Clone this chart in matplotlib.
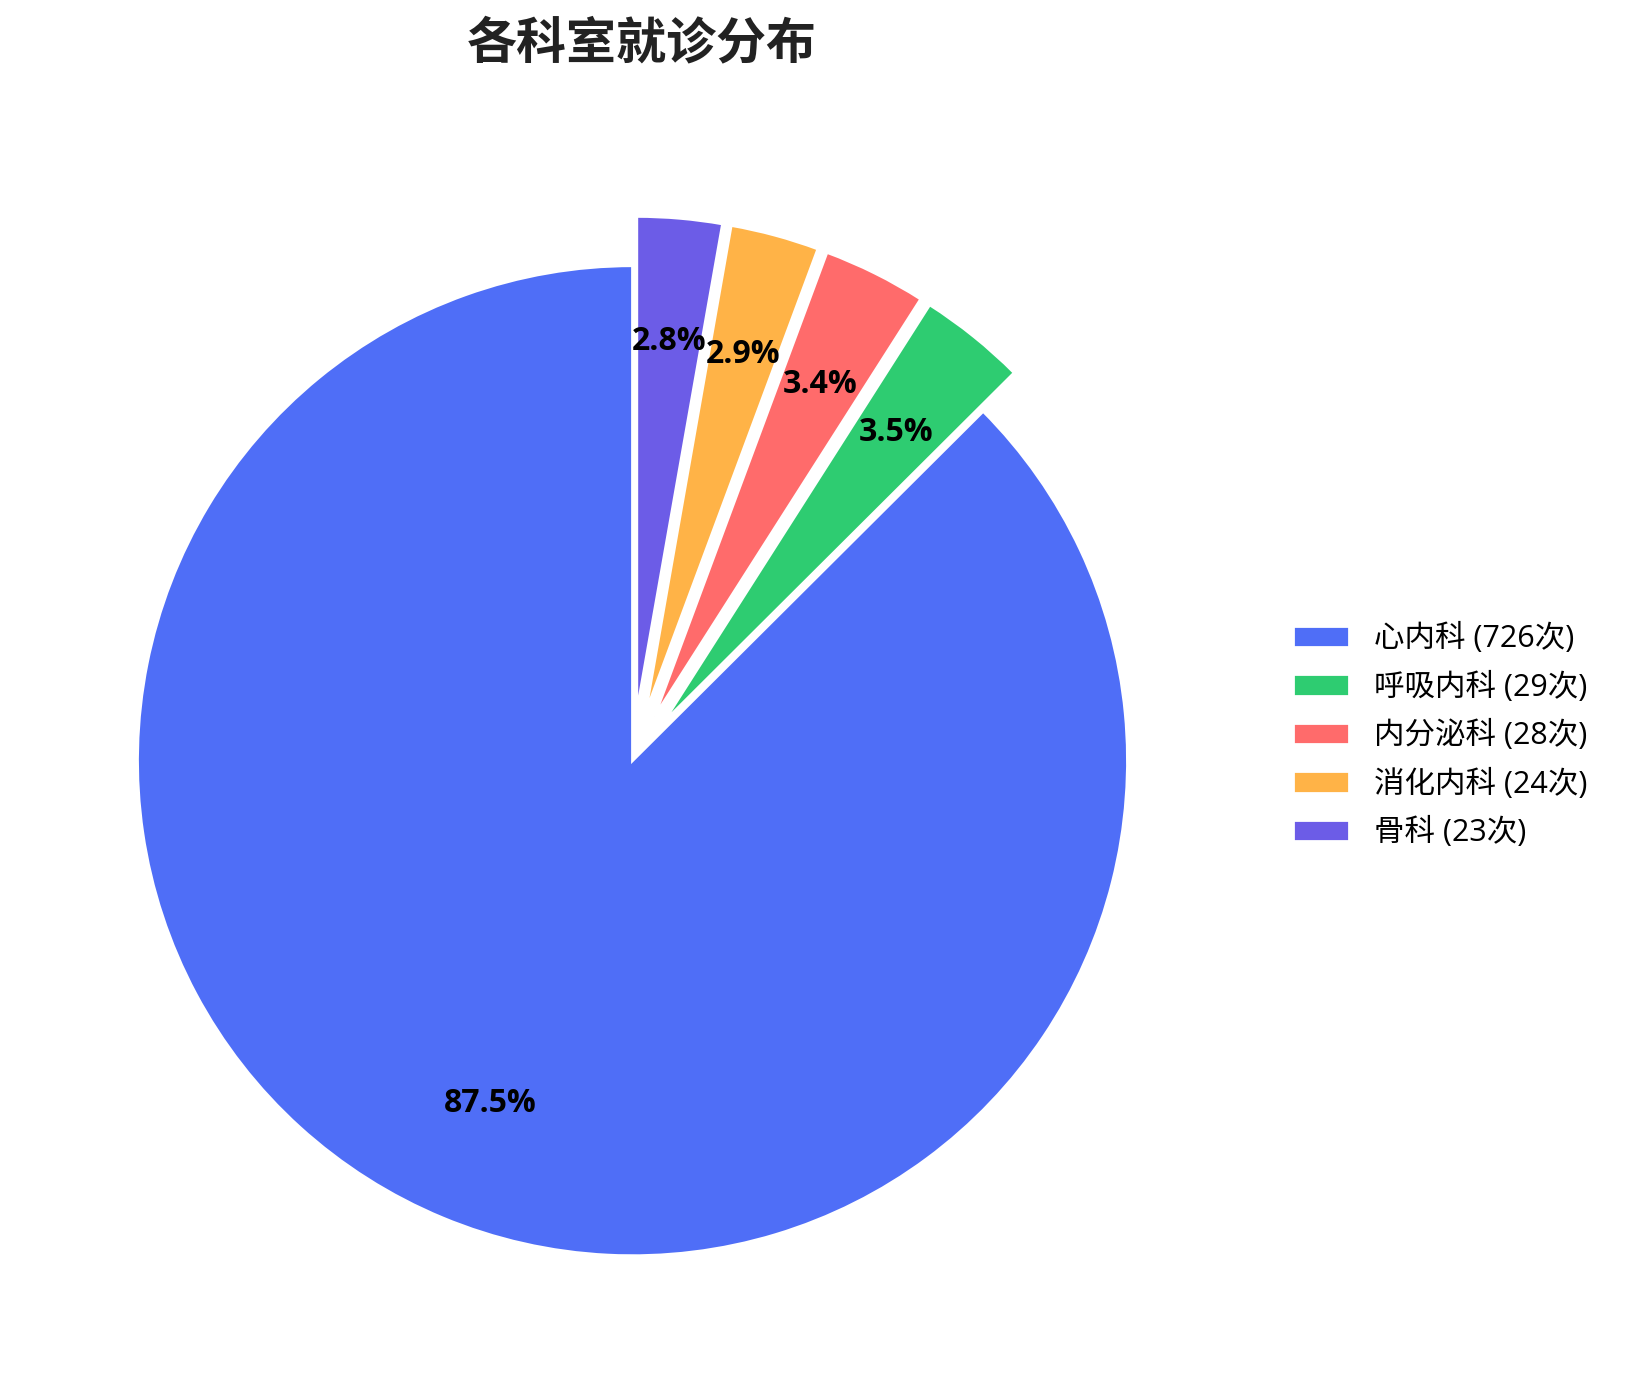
import matplotlib
matplotlib.use("Agg")
import matplotlib.pyplot as plt

plt.rcParams['font.family'] = ['Open Sans', 'Noto Sans CJK SC', 'DejaVu Sans']

departments = ['心内科', '呼吸内科', '内分泌科', '消化内科', '骨科']
visits = [726, 29, 28, 24, 23]
colors = ['#4F6EF7', '#2ECC71', '#FF6B6B', '#FFB347', '#6C5CE7']
explode = [0, 0.1, 0.1, 0.1, 0.1]

fig = plt.figure(figsize=(8.135, 6.9), dpi=200)
ax = fig.add_axes([0.00845, 0.0004, 0.7606, 0.8967])

wedges, texts, autotexts = ax.pie(
    visits, colors=colors, explode=explode, startangle=90,
    autopct='%1.1f%%', pctdistance=0.75,
    wedgeprops=dict(edgecolor='white', linewidth=1),
    textprops=dict(fontsize=11.5, fontweight='bold', color='black'),
)

labels = [f'{d} ({v}次)' for d, v in zip(departments, visits)]
fig.legend(wedges, labels, loc='center left', bbox_to_anchor=(0.778, 0.467),
           frameon=False, fontsize=11, handlelength=1.83, labelspacing=0.57)

fig.text(0.3946, 0.9685, '各科室就诊分布', fontsize=18, fontweight='bold',
         color='#222222', ha='center', va='center',
         family=['Noto Sans CJK SC', 'DejaVu Sans'])

fig.savefig('out.png', dpi=200)
